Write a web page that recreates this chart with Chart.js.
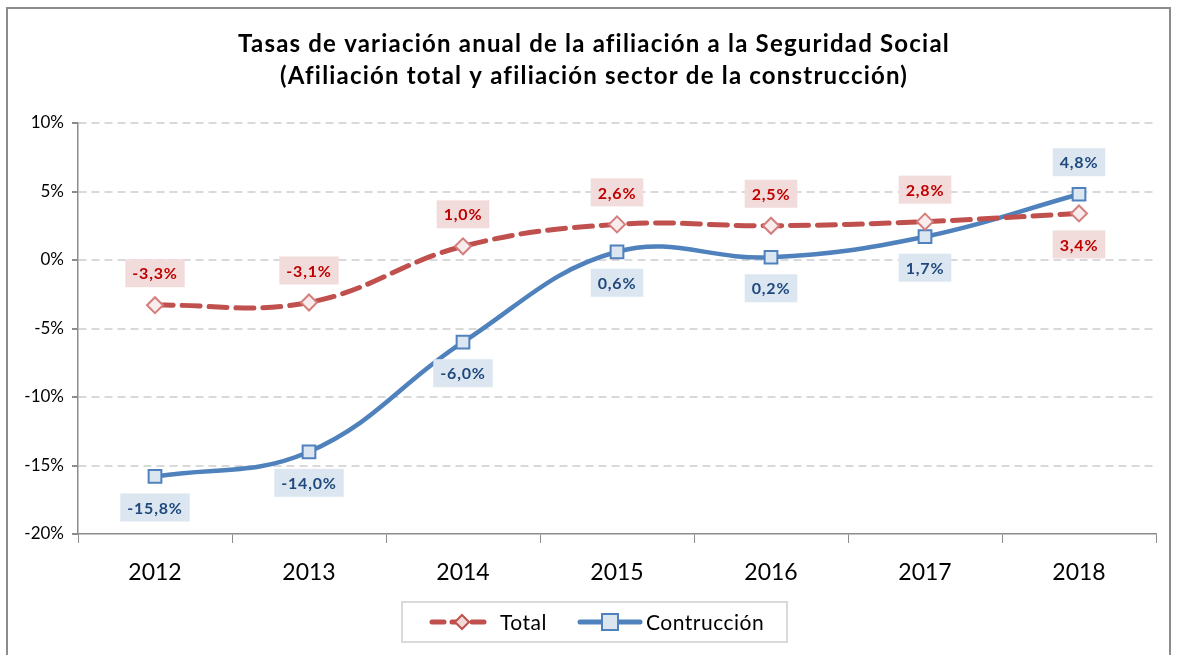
<!DOCTYPE html>
<html>
<head>
<meta charset="utf-8">
<script src="https://cdn.jsdelivr.net/npm/chart.js@4.4.1/dist/chart.umd.min.js"></script>
<style>
  body { margin: 0; background: #fff; }
  #wrap { width: 1178px; height: 655px; }
</style>
</head>
<body>
<div id="wrap"><canvas id="grafica" width="1178" height="655"></canvas></div>
<script>
const years = ["2012", "2013", "2014", "2015", "2016", "2017", "2018"];
const total = [-3.3, -3.1, 1.0, 2.6, 2.5, 2.8, 3.4];
const construccion = [-15.8, -14.0, -6.0, 0.6, 0.2, 1.7, 4.8];
// label above (-1) or below (+1) each point
const totalSide = [-1, -1, -1, -1, -1, -1, 1];
const construccionSide = [1, 1, 1, 1, 1, 1, -1];
const titulo = ["Tasas de variación anual de la afiliación a la Seguridad Social",
                "(Afiliación total y afiliación sector de la construcción)"];
const FONT = "Lato, 'Liberation Sans', sans-serif";

function fmt(v) {
    return v.toFixed(1).replace(".", ",") + "%";
}

const etiquetasPlugin = {
    id: "etiquetas",
    afterDatasetsDraw(chart) {
        const ctx = chart.ctx;
        const estilos = [
            { side: totalSide, bg: "#F2DCDB", color: "#C00000" },
            { side: construccionSide, bg: "#DCE6F1", color: "#1F497D" }
        ];
        chart.data.datasets.forEach((ds, d) => {
            const meta = chart.getDatasetMeta(d);
            meta.data.forEach((pt, i) => {
                const txt = fmt(ds.data[i]);
                ctx.save();
                ctx.font = "bold 16px " + FONT;
                ctx.letterSpacing = "0.8px";
                const w = ctx.measureText(txt).width + 14;
                const h = 28;
                const off = estilos[d].side[i] < 0 ? -32 : 31;
                const cy = pt.y + off;
                ctx.fillStyle = estilos[d].bg;
                ctx.fillRect(pt.x - w / 2, cy - h / 2, w, h);
                ctx.fillStyle = estilos[d].color;
                ctx.textAlign = "center";
                ctx.textBaseline = "middle";
                ctx.fillText(txt, pt.x, cy + 1);
                ctx.restore();
            });
        });
    },
    afterDraw(chart) {
        const ctx = chart.ctx;
        ctx.save();
        // marco exterior
        ctx.strokeStyle = "#8C8C8C";
        ctx.lineWidth = 2;
        ctx.strokeRect(7, 8, 1163, 660);
        // titulo
        ctx.fillStyle = "#000";
        ctx.font = "bold 24px " + FONT;
        ctx.letterSpacing = "1.2px";
        ctx.textAlign = "center";
        ctx.textBaseline = "middle";
        ctx.fillText(titulo[0], 594, 44);
        ctx.fillText(titulo[1], 594, 76);
        ctx.letterSpacing = "0.5px";
        // leyenda
        ctx.strokeStyle = "#D9D9D9";
        ctx.lineWidth = 2;
        ctx.strokeRect(402, 602, 385, 40);
        ctx.lineCap = "round";
        ctx.lineWidth = 5;
        ctx.strokeStyle = "#C0504D";
        ctx.setLineDash([12, 8]);
        ctx.beginPath(); ctx.moveTo(432, 622); ctx.lineTo(492, 622); ctx.stroke();
        ctx.setLineDash([]);
        ctx.lineWidth = 2;
        ctx.fillStyle = "#F2DCDB";
        ctx.beginPath();
        ctx.moveTo(462, 615); ctx.lineTo(469, 622); ctx.lineTo(462, 629); ctx.lineTo(455, 622);
        ctx.closePath(); ctx.fill(); ctx.stroke();
        ctx.fillStyle = "#000";
        ctx.font = "21px " + FONT;
        ctx.textAlign = "left";
        ctx.fillText("Total", 500, 623);
        ctx.strokeStyle = "#4F81BD";
        ctx.lineWidth = 5;
        ctx.beginPath(); ctx.moveTo(580, 622); ctx.lineTo(640, 622); ctx.stroke();
        ctx.lineWidth = 2;
        ctx.fillStyle = "#DCE6F1";
        ctx.fillRect(602, 614, 16, 16);
        ctx.strokeRect(602, 614, 16, 16);
        ctx.fillStyle = "#000";
        ctx.fillText("Contrucción", 646, 623);
        ctx.restore();
    }
};

const data = {
    labels: years,
    datasets: [{
        label: "Total",
        data: total,
        borderColor: "#C0504D",
        backgroundColor: "#F2DCDB",
        borderWidth: 5,
        borderDash: [18, 9],
        borderCapStyle: "round",
        tension: 0.4,
        pointStyle: "rectRot",
        pointRadius: 8,
        pointBorderWidth: 2,
        pointBackgroundColor: "#F9ECEC",
        pointBorderColor: "#D47D7B"
    }, {
        label: "Contrucción",
        data: construccion,
        borderColor: "#4F81BD",
        backgroundColor: "#DCE6F1",
        borderWidth: 4.5,
        tension: 0.4,
        pointStyle: "rect",
        pointRadius: 9,
        pointBorderWidth: 2,
        pointBackgroundColor: "#DCE6F1",
        pointBorderColor: "#4F81BD"
    }]
};

const config = {
    type: "line",
    data: data,
    plugins: [etiquetasPlugin],
    options: {
        responsive: false,
        animation: false,
        layout: { padding: { top: 123, left: 8, right: 22, bottom: 61 } },
        plugins: {
            legend: { display: false },
            title: { display: false },
            tooltip: { enabled: false }
        },
        scales: {
            x: {
                offset: true,
                afterFit: s => { s.height = 60; },
                grid: { offset: true, drawOnChartArea: false, tickLength: 9, color: "#8C8C8C", tickWidth: 1 },
                border: { color: "#8C8C8C", width: 1.5 },
                ticks: { color: "#000", padding: 16, font: { family: FONT, size: 23 } }
            },
            y: {
                min: -20,
                max: 10,
                afterFit: s => { s.width = 70; },
                grid: {
                    color: c => c.tick.value === -20 ? "rgba(0,0,0,0)" : "#D9D9D9",
                    lineWidth: 2,
                    tickColor: "#8C8C8C",
                    tickLength: 6,
                    tickBorderDash: [0, 0]
                },
                border: { color: "#8C8C8C", width: 1.5, dash: [8, 5] },
                ticks: {
                    stepSize: 5,
                    color: "#000",
                    padding: 8,
                    font: { family: FONT, size: 17 },
                    callback: v => v + "%"
                }
            }
        }
    }
};

const ChartPrincipal = new Chart(document.getElementById("grafica"), config);
</script>
</body>
</html>
